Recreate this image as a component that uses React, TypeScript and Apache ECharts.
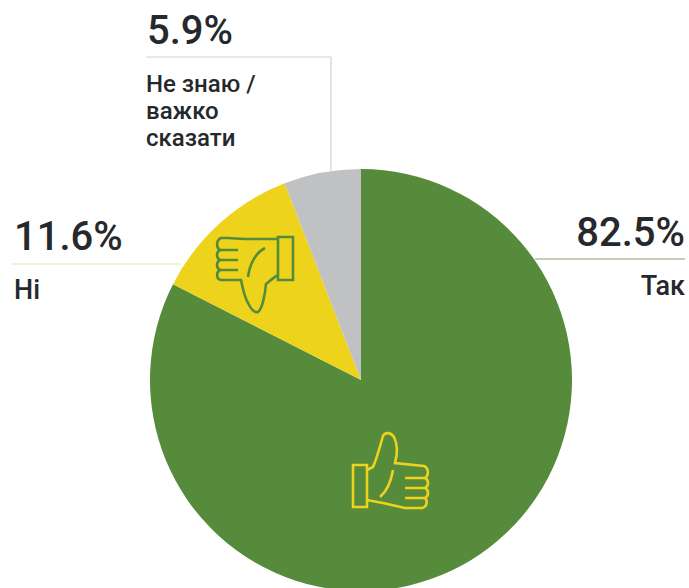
import React, { useEffect, useRef } from "react";
import * as echarts from "echarts";

const categories = ["Так", "Ні", "Не знаю /\nважко\nсказати"];
const values = [82.5, 11.6, 5.9];
const percentLabels = ["82.5%", "11.6%", "5.9%"];
const colors = ["#558b3b", "#eed31d", "#bfc1c3"];

const thumbUpPath =
  "M353 465 L367 465 L367 507 L353 507 Z " +
  "M367 470 L373 467 C377 458 380 446 383 436 C385 432 391 432 394 437 C397 443 398 452 395 463 L424 466 C429 468 429 476 425 478 C429 480 429 486 425 488 C429 490 429 496 425 498 C428 501 427 507 422 508 L405 508 L383 503 L367 500 " +
  "M405 478 L425 478 M405 488 L425 488 M405 498 L425 498 " +
  "M393 470 C391 482 387 491 380 497";

const thumbDownPath =
  "M278 237 L293 237 L293 280 L278 280 Z " +
  "M278 239 L244 239 L228 238 L221 238 C216 240 216 248 220 250 C216 252 216 258 220 260 C216 262 216 268 220 270 C216 272 216 279 221 280 L241 280 C243 290 245 298 248 303 C251 309 255 313 258 312 C262 309 265 296 266 284 C270 281 274 277 278 275 " +
  "M221 250 L238 250 M220 260 L238 260 M220 270 L238 270 " +
  "M265 248 C257 252 250 262 248 277";

echarts.graphic.registerShape("thumbUpIcon", echarts.graphic.extendPath(thumbUpPath, {}));
echarts.graphic.registerShape("thumbDownIcon", echarts.graphic.extendPath(thumbDownPath, {}));

const FONT = 'Roboto, "Noto Sans", sans-serif';

function big(text: string, x: number, y: number, align: string) {
  return {
    type: "text", z: 20, x, y,
    style: { text, fill: "#26282b", font: `500 40px ${FONT}`, textAlign: align, textVerticalAlign: "middle" },
  };
}
function small(text: string, x: number, y: number, align: string, size: number) {
  return {
    type: "text", z: 20, x, y,
    style: { text, fill: "#26282b", font: `500 ${size}px ${FONT}`, lineHeight: 27, textAlign: align, textVerticalAlign: "top" },
  };
}
function rule(x1: number, y1: number, x2: number, y2: number, stroke: string) {
  return { type: "line", z: 5, shape: { x1, y1, x2, y2 }, style: { stroke, lineWidth: 1.2 } };
}

export default function App() {
  const ref = useRef<HTMLDivElement>(null);
  useEffect(() => {
    const chart = echarts.init(ref.current!, null, { renderer: "svg" });
    chart.setOption({
      animation: false,
      backgroundColor: "#ffffff",
      series: [
        {
          type: "pie",
          center: [361, 380],
          radius: [0, 211],
          startAngle: 90,
          clockwise: true,
          silent: true,
          label: { show: false },
          labelLine: { show: false },
          data: categories.map((name, i) => ({ name, value: values[i], itemStyle: { color: colors[i] } })),
        },
      ],
      graphic: [
        rule(146, 57, 331, 57, "#cfd1d3"),
        rule(331, 57, 331, 171, "#cfd1d3"),
        rule(11, 264, 181, 264, "#efe3a0"),
        rule(535, 259, 685, 259, "#8f9a78"),
        big(percentLabels[2], 147, 30, "left"),
        small(categories[2], 146, 70, "left", 24),
        big(percentLabels[1], 14, 236, "left"),
        small(categories[1], 14, 276, "left", 27),
        big(percentLabels[0], 685, 232, "right"),
        small(categories[0], 685, 272, "right", 27),
        { type: "thumbUpIcon", z: 10, style: { fill: "none", stroke: colors[1], lineWidth: 2.6 } },
        { type: "thumbDownIcon", z: 10, style: { fill: "none", stroke: colors[0], lineWidth: 2.6 } },
      ],
    });
    return () => chart.dispose();
  }, []);
  return <div ref={ref} style={{ position: "fixed", left: 0, top: 0, width: 689, height: 588 }} />;
}
